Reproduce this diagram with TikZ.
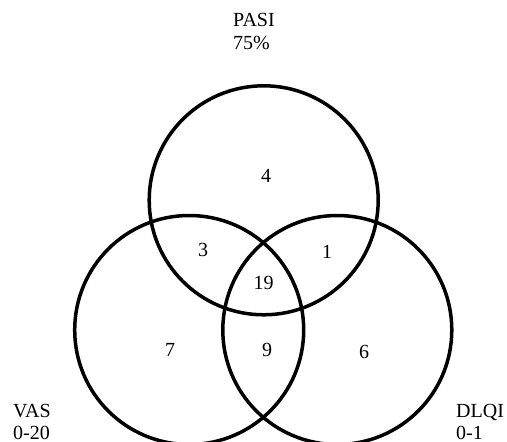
\documentclass[tikz,border=0pt]{standalone}
\usepackage{fontspec}
\setmainfont{Liberation Serif}
\begin{document}
\begin{tikzpicture}[x=1pt,y=-1pt,
  ring/.style={draw=black,line width=3.5pt},
  lbl/.style={inner sep=0pt,anchor=base west,font=\fontsize{20}{23}\selectfont},
  num/.style={inner sep=0pt,font=\fontsize{20}{23}\selectfont}]
\useasboundingbox (0,0) rectangle (507,442);
\node[ring,circle,minimum size=229pt,inner sep=0pt] (pasi) at (263.7,200.3) {};
\node[ring,circle,minimum size=229pt,inner sep=0pt] (vas) at (189.2,330) {};
\node[ring,circle,minimum size=229pt,inner sep=0pt] (dlqi) at (337.3,330) {};
\node[lbl] (t1) at (233,26) {PASI};
\node[lbl] (t2) at (233,49.3) {75\%};
\node[lbl] (l1) at (13,417) {VAS};
\node[lbl] (l2) at (13,439) {0-20};
\node[lbl] (r1) at (456,417) {DLQI};
\node[lbl] (r2) at (456,439) {0-1};
\node[num] (n4) at (266,176) {4};
\node[num] (n3) at (203,250) {3};
\node[num] (n1) at (327,252) {1};
\node[num] (n19) at (263.5,283) {19};
\node[num] (n7) at (170,350) {7};
\node[num] (n9) at (267,350) {9};
\node[num] (n6) at (364,352) {6};
\end{tikzpicture}
\end{document}
